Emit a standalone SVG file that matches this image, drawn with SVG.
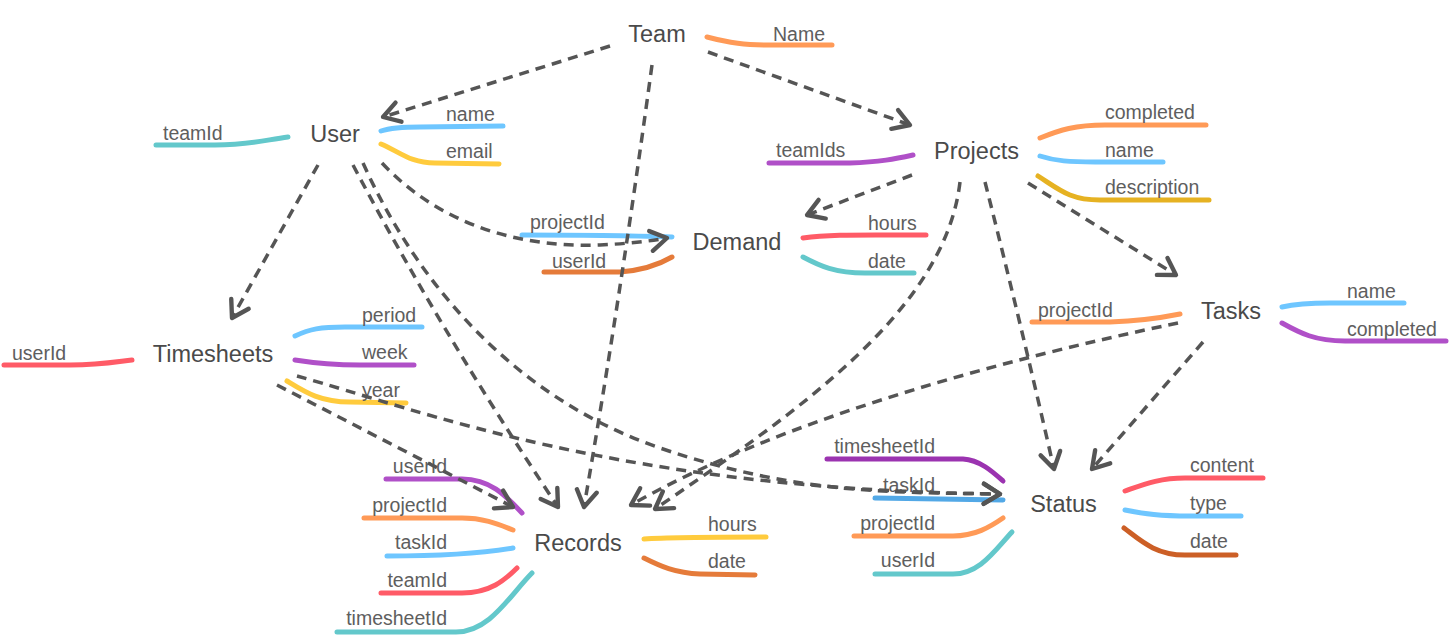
<svg xmlns="http://www.w3.org/2000/svg" width="1450" height="636" viewBox="0 0 1450 636">
<style>
.node{font-family:"Liberation Sans",Arial,sans-serif;font-size:23.5px;fill:#4a4a4a;text-anchor:middle}
.at{font-family:"Liberation Sans",Arial,sans-serif;font-size:19.5px;fill:#5e5e5e}
.end{text-anchor:end}
.a{fill:none;stroke-width:5;stroke-linecap:round}
.c{fill:none;stroke:#555;stroke-width:3.5;stroke-dasharray:10 7;marker-end:url(#arr)}
</style>
<defs>
<marker id="arr" markerUnits="userSpaceOnUse" markerWidth="30" markerHeight="30" viewBox="-16 -12 20 24" refX="0" refY="0" orient="auto">
<path d="M-13,-8 L0,0 L-13,8" fill="none" stroke="#555" stroke-width="3.5" stroke-linecap="round" stroke-linejoin="round"/>
</marker>
</defs>
<rect width="1450" height="636" fill="#fff"/>

<g id="team">
<text class="node" x="657" y="42">Team</text>
<path class="a" stroke="#ff9a57" d="M707,37 C730,43 745,45 770,45 L832,45"/>
<text class="at" x="773" y="41">Name</text>
</g>

<g id="user">
<text class="node" x="335" y="142">User</text>
<path class="a" stroke="#63c8cb" d="M156,145 L215,145 C250,145 265,140 288,137"/>
<text class="at" x="163" y="140">teamId</text>
<path class="a" stroke="#6ec6ff" d="M381,131 C390,128 400,127 420,127 L503,126"/>
<text class="at" x="446" y="121">name</text>
<path class="a" stroke="#ffcb3d" d="M381,144 C400,152 410,163 435,163 L499,164"/>
<text class="at" x="446" y="158">email</text>
</g>

<g id="projects">
<text class="node" x="976.5" y="159">Projects</text>
<path class="a" stroke="#b050c8" d="M769,163 L850,163 C880,162 895,159 913,155"/>
<text class="at" x="776" y="157">teamIds</text>
<path class="a" stroke="#ff9a57" d="M1040,138 C1060,130 1075,125 1105,125 L1206,125"/>
<text class="at" x="1105" y="119">completed</text>
<path class="a" stroke="#6ec6ff" d="M1040,156 C1055,161 1070,162 1095,162 L1163,162"/>
<text class="at" x="1105" y="157">name</text>
<path class="a" stroke="#e6b222" d="M1038,176 C1060,190 1070,200 1100,200 L1209,200"/>
<text class="at" x="1105" y="194">description</text>
</g>

<g id="demand">
<text class="node" x="737" y="250">Demand</text>
<path class="a" stroke="#6ec6ff" d="M522,235 C600,235 640,236 672,237"/>
<text class="at" x="530" y="229">projectId</text>
<path class="a" stroke="#e57b3a" d="M544,272 L620,272 C645,270 660,264 672,257"/>
<text class="at" x="552" y="268">userId</text>
<path class="a" stroke="#ff5b67" d="M803,238 C830,234 860,235 926,235"/>
<text class="at" x="868" y="230">hours</text>
<path class="a" stroke="#63c8cb" d="M803,257 C820,266 835,273 865,273 L914,273"/>
<text class="at" x="868" y="268">date</text>
</g>

<g id="timesheets">
<text class="node" x="213" y="362">Timesheets</text>
<path class="a" stroke="#ff5b67" d="M4,365 L70,365 C100,365 115,362 132,360"/>
<text class="at" x="12" y="360">userId</text>
<path class="a" stroke="#6ec6ff" d="M295,336 C310,329 320,327 345,327 L422,327"/>
<text class="at" x="362" y="322">period</text>
<path class="a" stroke="#b050c8" d="M295,360 C320,364 340,365 360,365 L414,365"/>
<text class="at" x="362" y="359">week</text>
<path class="a" stroke="#ffcb3d" d="M287,381 C305,392 320,402 350,402 L406,403"/>
<text class="at" x="362" y="397">year</text>
</g>

<g id="tasks">
<text class="node" x="1231" y="319">Tasks</text>
<path class="a" stroke="#ff9a57" d="M1032,322 L1110,322 C1140,321 1160,318 1180,314"/>
<text class="at" x="1038" y="317">projectId</text>
<path class="a" stroke="#6ec6ff" d="M1282,307 C1295,304 1305,303 1330,303 L1404,303"/>
<text class="at" x="1347" y="298">name</text>
<path class="a" stroke="#b050c8" d="M1282,323 C1300,333 1315,341 1345,341 L1446,341"/>
<text class="at" x="1347" y="336">completed</text>
</g>

<g id="records">
<text class="node" x="578" y="551">Records</text>
<path class="a" stroke="#b050c8" d="M386,479 L462,479 C490,479 505,495 522,513"/>
<text class="at end" x="447" y="473">userId</text>
<path class="a" stroke="#ff9a57" d="M364,518 L462,518 C485,518 500,525 513,530"/>
<text class="at end" x="447" y="512">projectId</text>
<path class="a" stroke="#6ec6ff" d="M387,556 C450,556 490,552 513,548"/>
<text class="at end" x="447" y="549">taskId</text>
<path class="a" stroke="#ff5b67" d="M381,593 L462,593 C490,593 505,580 517,568"/>
<text class="at end" x="447" y="587">teamId</text>
<path class="a" stroke="#63c8cb" d="M337,632 L456,632 C490,632 510,595 532,573"/>
<text class="at end" x="447" y="625">timesheetId</text>
<path class="a" stroke="#ffcb3d" d="M644,539 C670,537 700,537 766,537"/>
<text class="at" x="708" y="531">hours</text>
<path class="a" stroke="#e57b3a" d="M644,558 C660,566 675,573 700,574 L755,575"/>
<text class="at" x="708" y="568">date</text>
</g>

<g id="status">
<text class="node" x="1063.5" y="512">Status</text>
<path class="a" stroke="#9b33b0" d="M827,459 L963,459 C980,460 993,472 1003,481"/>
<text class="at end" x="935" y="453">timesheetId</text>
<path class="a" stroke="#52a8e6" d="M875,498 L1003,500"/>
<text class="at end" x="935" y="492">taskId</text>
<path class="a" stroke="#ff9a57" d="M854,536 L953,536 C975,536 990,527 1003,518"/>
<text class="at end" x="935" y="530">projectId</text>
<path class="a" stroke="#63c8cb" d="M875,574 L953,574 C980,574 995,550 1012,532"/>
<text class="at end" x="935" y="567">userId</text>
<path class="a" stroke="#ff5b67" d="M1125,491 C1145,484 1160,478 1185,478 L1263,478"/>
<text class="at" x="1190" y="472">content</text>
<path class="a" stroke="#6ec6ff" d="M1125,510 C1145,514 1160,516 1190,516 L1241,516"/>
<text class="at" x="1190" y="510">type</text>
<path class="a" stroke="#cc5f26" d="M1124,528 C1140,540 1155,555 1185,555 L1236,555"/>
<text class="at" x="1190" y="548">date</text>
</g>

<g id="connectors">
<path class="c" d="M610,46 L383,117"/>
<path class="c" d="M708,52 L910,125"/>
<path class="c" d="M652,65 Q620,300 584,507"/>
<path class="c" d="M318,165 L232,318"/>
<path class="c" d="M353,165 Q440,330 558,507"/>
<path class="c" d="M363,163 C420,290 520,400 660,448 S900,492 1000,494"/>
<path class="c" d="M382,163 C440,225 520,248 600,245 Q640,243 667,238"/>
<path class="c" d="M277,385 L513,507"/>
<path class="c" d="M297,376 C420,410 620,490 1000,494"/>
<path class="c" d="M912,175 L807,215"/>
<path class="c" d="M1028,183 L1176,275"/>
<path class="c" d="M960,182 C945,310 800,410 655,509"/>
<path class="c" d="M1178,323 C1000,360 780,420 631,505"/>
<path class="c" d="M985,182 Q1020,320 1054,469"/>
<path class="c" d="M1203,342 L1092,469"/>
</g>
</svg>
